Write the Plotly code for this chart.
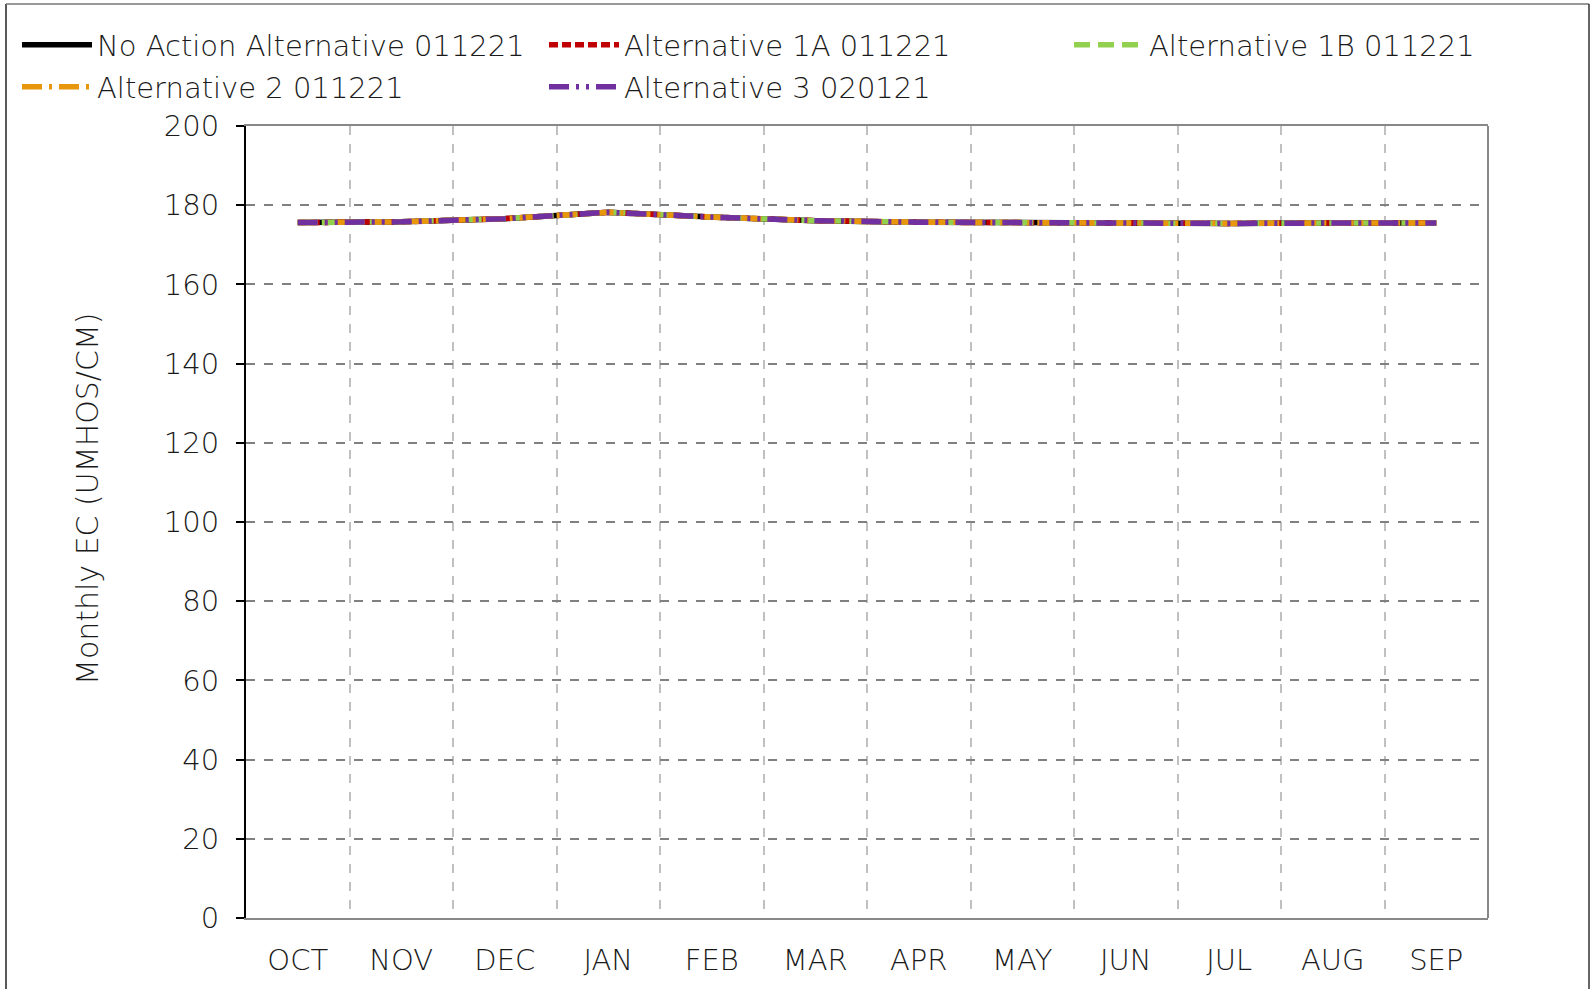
import plotly.graph_objects as go

months = ["OCT", "NOV", "DEC", "JAN", "FEB", "MAR", "APR", "MAY", "JUN", "JUL", "AUG", "SEP"]
no_action = [175.6, 175.8, 176.6, 178.2, 177.0, 176.1, 175.7, 175.5, 175.5, 175.4, 175.5, 175.5]
alt_1a = [175.6, 175.8, 176.6, 178.2, 177.0, 176.1, 175.7, 175.5, 175.5, 175.4, 175.5, 175.5]
alt_1b = [175.6, 175.8, 176.6, 178.2, 177.0, 176.1, 175.7, 175.5, 175.5, 175.4, 175.5, 175.5]
alt_2 = [175.6, 175.8, 176.6, 178.2, 177.0, 176.1, 175.7, 175.5, 175.5, 175.4, 175.5, 175.5]
alt_3 = [175.6, 175.8, 176.6, 178.2, 177.0, 176.1, 175.7, 175.5, 175.5, 175.4, 175.5, 175.5]

series = [
    ("No Action Alternative 011221", no_action, "#000000", "solid"),
    ("Alternative 1A 011221", alt_1a, "#c00000", "9px,4px"),
    ("Alternative 1B 011221", alt_1b, "#92d050", "16px,8px"),
    ("Alternative 2 011221", alt_2, "#e8960c", "20px,7px,3px,7px"),
    ("Alternative 3 020121", alt_3, "#7030a0", "20px,7px,3px,7px,3px,7px"),
]

W, H = 1593, 989
L, R, T, B = 246, 1488, 126, 918
FONT = "DejaVu Sans, sans-serif"
TXT = "#1a1a1a"

# legend slot positions (container pixels: left x, centre y)
legend_pos = [(17, 45), (544, 45), (1069, 45), (17, 87), (544, 87)]

x = list(range(len(months)))

fig = go.Figure()
for i, (name, vals, color, dash) in enumerate(series):
    lg = "legend" if i == 0 else f"legend{i + 1}"
    fig.add_trace(go.Scatter(x=x, y=vals, mode="lines", name=name, legend=lg,
                             line=dict(color=color, width=5.5, dash=dash)))

legends = {}
for i, (lx, ly) in enumerate(legend_pos):
    key = "legend" if i == 0 else f"legend{i + 1}"
    legends[key] = dict(xref="container", yref="container",
                        x=lx / W, y=1 - ly / H, xanchor="left", yanchor="middle",
                        bgcolor="rgba(0,0,0,0)", itemwidth=70,
                        font=dict(size=29, family=FONT, color=TXT, weight=300))

fig.update_layout(
    width=W, height=H,
    margin=dict(l=L, r=W - R, t=T, b=H - B, pad=0, autoexpand=False),
    paper_bgcolor="white", plot_bgcolor="white",
    font=dict(family=FONT, size=29, color=TXT, weight=300),
    showlegend=True,
    **legends,
    xaxis=dict(range=[-0.5, 11.5], tickmode="array", tickvals=x, ticktext=months,
               showgrid=False, zeroline=False, showline=True, linecolor="#888888",
               linewidth=2, mirror=True, ticks="", ticklabelstandoff=15,
               tickfont=dict(size=29, family=FONT, color=TXT, weight=300),
               minor=dict(tick0=0.5, dtick=1, showgrid=True, griddash="dash",
                          gridcolor="#c0c0c0", gridwidth=1.5, ticks="")),
    yaxis=dict(range=[0, 200], dtick=20, showgrid=True, gridcolor="#808080",
               griddash="dash", gridwidth=1.5, zeroline=False, showline=True,
               linecolor="#000000", linewidth=2, ticks="outside", ticklen=8,
               tickcolor="#000000", tickwidth=1.5, ticklabelstandoff=11,
               tickfont=dict(size=29, family=FONT, color=TXT, weight=300)),
)

# y-axis title as rotated annotation
fig.add_annotation(text="Monthly EC (UMHOS/CM)", xref="paper", yref="paper",
                   x=(87 - L) / (R - L), y=(B - 498) / (B - T), textangle=-90,
                   showarrow=False, xanchor="center", yanchor="middle",
                   font=dict(size=30, family=FONT, color=TXT, weight=300))

# right border of plot area
fig.add_shape(type="line", xref="paper", yref="paper", x0=1, x1=1, y0=0, y1=1,
              line=dict(color="#888888", width=2))

# outer chart border (left, top, right; bottom runs off the page)
def px(v):
    return (v - L) / (R - L)

def py(v):
    return (B - v) / (B - T)

fig.add_shape(type="line", xref="paper", yref="paper", x0=px(6), x1=px(6),
              y0=py(4), y1=py(1000), line=dict(color="#222222", width=1.5))
fig.add_shape(type="line", xref="paper", yref="paper", x0=px(6), x1=px(1589),
              y0=py(4), y1=py(4), line=dict(color="#777777", width=1.5))
fig.add_shape(type="line", xref="paper", yref="paper", x0=px(1589), x1=px(1589),
              y0=py(4), y1=py(1000), line=dict(color="#333333", width=1.5))

fig.write_html("out.html", config={"displayModeBar": False},
               post_script="document.body.style.margin='0';")
